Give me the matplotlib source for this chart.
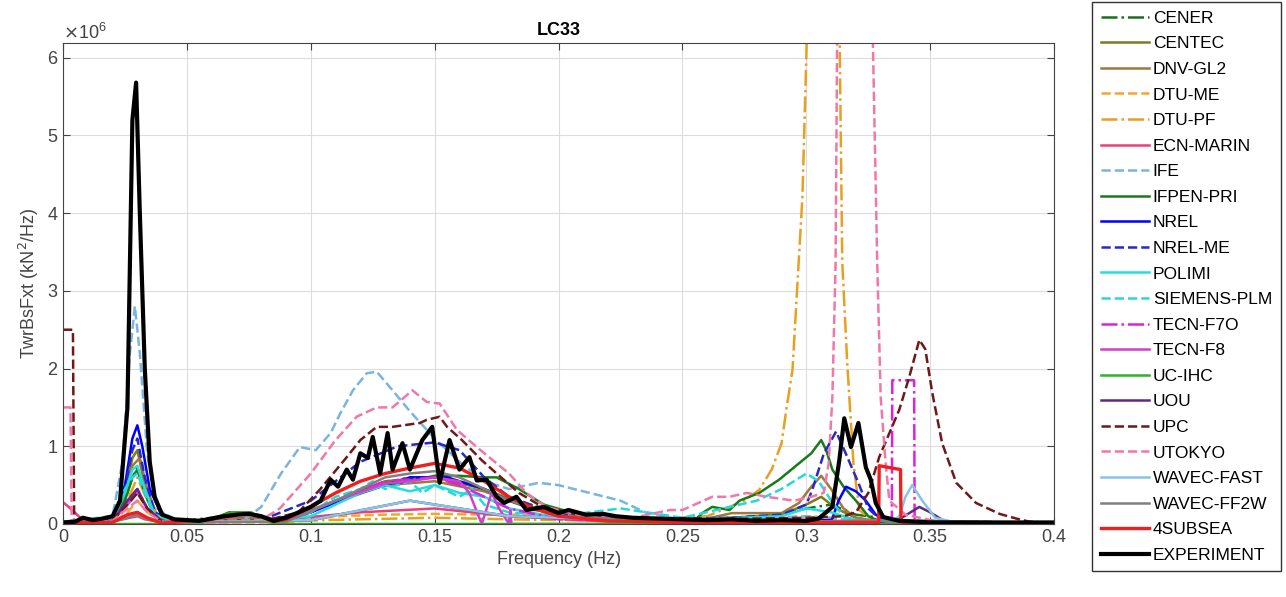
import numpy as np
import matplotlib
matplotlib.use("Agg")
import matplotlib.pyplot as plt
from matplotlib.ticker import ScalarFormatter

plt.rcParams['font.family'] = ['Liberation Sans', 'DejaVu Sans']

# values in units of 1e6 kN^2/Hz, frequencies in Hz
cener_f = [0, 0.02, 0.025, 0.028, 0.03, 0.033, 0.037, 0.045, 0.06, 0.07, 0.078, 0.085, 0.095, 0.11, 0.125, 0.14, 0.155, 0.17, 0.18, 0.2, 0.22, 0.25, 0.27, 0.29, 0.3, 0.31, 0.32, 0.34, 0.4]
cener_v = [0.02, 0.05, 0.3, 0.6, 0.72, 0.4, 0.1, 0.03, 0.08, 0.14, 0.12, 0.03, 0.08, 0.3, 0.5, 0.6, 0.6, 0.45, 0.32, 0.15, 0.08, 0.05, 0.08, 0.12, 0.2, 0.25, 0.12, 0.04, 0.01]

centec_f = [0, 0.02, 0.025, 0.028, 0.03, 0.033, 0.037, 0.045, 0.07, 0.09, 0.11, 0.13, 0.15, 0.17, 0.19, 0.22, 0.26, 0.29, 0.3, 0.306, 0.312, 0.32, 0.33, 0.4]
centec_v = [0.02, 0.05, 0.4, 0.85, 0.95, 0.5, 0.12, 0.03, 0.08, 0.06, 0.3, 0.55, 0.6, 0.45, 0.2, 0.08, 0.06, 0.12, 0.25, 0.35, 0.2, 0.08, 0.02, 0.01]

dnv_f = [0, 0.02, 0.025, 0.028, 0.031, 0.034, 0.038, 0.045, 0.07, 0.09, 0.11, 0.13, 0.15, 0.17, 0.19, 0.22, 0.26, 0.27, 0.29, 0.297, 0.302, 0.306, 0.31, 0.315, 0.32, 0.33, 0.4]
dnv_v = [0.02, 0.04, 0.35, 0.75, 0.85, 0.45, 0.1, 0.03, 0.07, 0.05, 0.28, 0.5, 0.55, 0.42, 0.18, 0.07, 0.07, 0.14, 0.14, 0.27, 0.48, 0.62, 0.45, 0.2, 0.08, 0.03, 0.01]

dtume_f = [0, 0.02, 0.026, 0.03, 0.034, 0.04, 0.06, 0.09, 0.1, 0.11, 0.13, 0.15, 0.17, 0.19, 0.2, 0.21, 0.24, 0.28, 0.3, 0.31, 0.32, 0.4]
dtume_v = [0.02, 0.03, 0.15, 0.3, 0.15, 0.03, 0.02, 0.02, 0.05, 0.1, 0.12, 0.13, 0.12, 0.12, 0.1, 0.06, 0.03, 0.05, 0.1, 0.08, 0.03, 0.01]

dtupf_f = [0, 0.02, 0.026, 0.03, 0.034, 0.04, 0.08, 0.12, 0.15, 0.18, 0.22, 0.26, 0.275, 0.281, 0.286, 0.29, 0.2919, 0.2944, 0.2984, 0.3005, 0.307, 0.3133, 0.3145, 0.3165, 0.319, 0.3214, 0.326, 0.34, 0.4]
dtupf_v = [0.02, 0.03, 0.3, 0.6, 0.3, 0.03, 0.03, 0.06, 0.08, 0.06, 0.04, 0.1, 0.3, 0.44, 0.7, 1.04, 1.47, 1.98, 4.2, 6.6, 8.0, 6.6, 3.36, 2.07, 0.78, 0.18, 0.05, 0.02, 0.01]

ecn_f = [0, 0.003, 0.008, 0.02, 0.027, 0.03, 0.033, 0.04, 0.08, 0.12, 0.15, 0.18, 0.22, 0.3, 0.33, 0.4]
ecn_v = [0.28, 0.2, 0.05, 0.03, 0.08, 0.1, 0.06, 0.02, 0.03, 0.15, 0.2, 0.1, 0.03, 0.04, 0.02, 0.01]

ife_f = [0, 0.02, 0.024, 0.027, 0.029, 0.031, 0.034, 0.038, 0.045, 0.06, 0.073, 0.08, 0.088, 0.0956, 0.102, 0.108, 0.112, 0.117, 0.1226, 0.1266, 0.1306, 0.133, 0.14, 0.15, 0.16, 0.17, 0.18, 0.192, 0.2, 0.21, 0.225, 0.235, 0.25, 0.28, 0.3, 0.32, 0.34, 0.4]
ife_v = [0.03, 0.1, 0.8, 2.2, 2.8, 2.2, 0.9, 0.2, 0.05, 0.03, 0.05, 0.22, 0.65, 0.99, 0.95, 1.17, 1.43, 1.72, 1.94, 1.96, 1.81, 1.72, 1.45, 1.1, 0.8, 0.55, 0.45, 0.53, 0.5, 0.42, 0.3, 0.15, 0.05, 0.08, 0.1, 0.05, 0.02, 0.01]

ifpen_f = [0, 0.02, 0.025, 0.028, 0.03, 0.033, 0.037, 0.045, 0.06, 0.067, 0.075, 0.082, 0.09, 0.1, 0.11, 0.12, 0.13, 0.14, 0.15, 0.16, 0.17, 0.175, 0.184, 0.194, 0.205, 0.22, 0.24, 0.255, 0.258, 0.262, 0.269, 0.273, 0.281, 0.289, 0.297, 0.302, 0.306, 0.308, 0.3105, 0.315, 0.32, 0.325, 0.33, 0.4]
ifpen_v = [0.02, 0.05, 0.3, 0.6, 0.7, 0.4, 0.1, 0.03, 0.06, 0.15, 0.15, 0.03, 0.05, 0.15, 0.3, 0.42, 0.5, 0.55, 0.62, 0.62, 0.6, 0.6, 0.45, 0.25, 0.15, 0.1, 0.06, 0.05, 0.14, 0.22, 0.18, 0.3, 0.4, 0.57, 0.78, 0.91, 1.08, 0.95, 0.7, 0.48, 0.3, 0.1, 0.03, 0.01]

nrel_f = [0, 0.02, 0.025, 0.028, 0.03, 0.032, 0.035, 0.04, 0.045, 0.08, 0.1, 0.12, 0.14, 0.155, 0.17, 0.18, 0.2, 0.25, 0.3, 0.31, 0.3105, 0.313, 0.316, 0.32, 0.324, 0.328, 0.333, 0.4]
nrel_v = [0.02, 0.06, 0.5, 1.1, 1.27, 1.0, 0.45, 0.1, 0.03, 0.04, 0.15, 0.4, 0.6, 0.6, 0.45, 0.3, 0.1, 0.04, 0.05, 0.05, 0.07, 0.3, 0.48, 0.42, 0.3, 0.12, 0.03, 0.01]

nrelme_f = [0, 0.02, 0.025, 0.028, 0.03, 0.033, 0.037, 0.045, 0.08, 0.1, 0.11, 0.12, 0.135, 0.15, 0.16, 0.17, 0.18, 0.2, 0.23, 0.27, 0.29, 0.3, 0.3024, 0.307, 0.312, 0.316, 0.321, 0.325, 0.33, 0.4]
nrelme_v = [0.02, 0.05, 0.45, 0.95, 1.1, 0.6, 0.15, 0.03, 0.05, 0.3, 0.55, 0.8, 1.0, 1.05, 0.95, 0.6, 0.35, 0.12, 0.06, 0.08, 0.12, 0.25, 0.44, 0.9, 1.19, 0.9, 0.53, 0.2, 0.05, 0.01]

polimi_f = [0, 0.02, 0.025, 0.028, 0.03, 0.033, 0.037, 0.045, 0.08, 0.1, 0.11, 0.12, 0.13, 0.14, 0.15, 0.16, 0.17, 0.18, 0.2, 0.25, 0.29, 0.3, 0.31, 0.32, 0.4]
polimi_v = [0.03, 0.05, 0.4, 0.7, 0.75, 0.45, 0.12, 0.03, 0.03, 0.1, 0.25, 0.4, 0.5, 0.42, 0.5, 0.4, 0.35, 0.2, 0.08, 0.05, 0.1, 0.2, 0.15, 0.05, 0.01]

siemens_f = [0, 0.02, 0.025, 0.028, 0.03, 0.033, 0.037, 0.045, 0.09, 0.1, 0.11, 0.12, 0.125, 0.13, 0.14, 0.145, 0.15, 0.16, 0.165, 0.17, 0.18, 0.2, 0.225, 0.25, 0.28, 0.29, 0.3, 0.305, 0.31, 0.315, 0.32, 0.4]
siemens_v = [0.03, 0.06, 0.45, 0.6, 0.65, 0.4, 0.1, 0.03, 0.03, 0.15, 0.35, 0.45, 0.55, 0.45, 0.55, 0.4, 0.5, 0.35, 0.45, 0.25, 0.15, 0.1, 0.2, 0.08, 0.3, 0.45, 0.65, 0.55, 0.3, 0.1, 0.04, 0.01]

tecnf7o_f = [0, 0.02, 0.026, 0.03, 0.034, 0.04, 0.09, 0.11, 0.13, 0.15, 0.16, 0.17, 0.18, 0.2, 0.25, 0.3, 0.3345, 0.3347, 0.3435, 0.3437, 0.4]
tecnf7o_v = [0.02, 0.04, 0.3, 0.45, 0.2, 0.03, 0.03, 0.3, 0.55, 0.6, 0.5, 0.35, 0.2, 0.06, 0.03, 0.02, 0.0, 1.85, 1.85, 0.0, 0.0]

tecnf8_f = [0, 0.02, 0.026, 0.03, 0.034, 0.04, 0.09, 0.11, 0.13, 0.14, 0.15, 0.16, 0.164, 0.169, 0.173, 0.176, 0.18, 0.1805, 0.181, 0.19, 0.25, 0.3, 0.4]
tecnf8_v = [0.02, 0.04, 0.25, 0.4, 0.2, 0.03, 0.03, 0.3, 0.52, 0.55, 0.6, 0.55, 0.4, 0.0, 0.4, 0.2, 0.0, 0.18, 0.0, 0.0, 0.0, 0.02, 0.01]

ucihc_f = [0, 0.055, 0.062, 0.068, 0.076, 0.083, 0.09, 0.4]
ucihc_v = [0.0, 0.0, 0.08, 0.15, 0.15, 0.02, 0.0, 0.0]

uou_f = [0, 0.02, 0.026, 0.03, 0.034, 0.04, 0.1, 0.14, 0.18, 0.25, 0.33, 0.338, 0.3456, 0.35, 0.355, 0.36, 0.4]
uou_v = [0.02, 0.04, 0.3, 0.45, 0.2, 0.03, 0.05, 0.3, 0.1, 0.03, 0.03, 0.07, 0.22, 0.15, 0.05, 0.02, 0.01]

upc_f = [0, 0.004, 0.0045, 0.01, 0.02, 0.026, 0.03, 0.034, 0.04, 0.08, 0.095, 0.1036, 0.1145, 0.12, 0.1266, 0.133, 0.144, 0.1468, 0.152, 0.155, 0.161, 0.169, 0.175, 0.184, 0.1935, 0.21, 0.23, 0.26, 0.3, 0.315, 0.32, 0.325, 0.3294, 0.3375, 0.3415, 0.3456, 0.348, 0.3508, 0.3548, 0.3605, 0.3685, 0.378, 0.3847, 0.39, 0.4]
upc_v = [2.5, 2.5, 0.05, 0.03, 0.05, 0.25, 0.4, 0.2, 0.03, 0.03, 0.15, 0.44, 0.86, 1.08, 1.25, 1.25, 1.3, 1.34, 1.38, 1.25, 1.08, 0.82, 0.65, 0.4, 0.22, 0.1, 0.08, 0.06, 0.08, 0.1, 0.15, 0.4, 0.86, 1.47, 1.89, 2.37, 2.25, 1.69, 1.04, 0.53, 0.27, 0.13, 0.07, 0.03, 0.01]

utokyo_f = [0, 0.003, 0.0035, 0.01, 0.02, 0.026, 0.03, 0.034, 0.04, 0.08, 0.0875, 0.1, 0.11, 0.1185, 0.1266, 0.133, 0.141, 0.1468, 0.152, 0.159, 0.167, 0.175, 0.18, 0.187, 0.195, 0.21, 0.23, 0.245, 0.25, 0.262, 0.269, 0.276, 0.284, 0.295, 0.302, 0.307, 0.309, 0.3105, 0.3118, 0.3125, 0.32, 0.3266, 0.3286, 0.33, 0.332, 0.3335, 0.34, 0.35, 0.36, 0.4]
utokyo_v = [1.5, 1.5, 0.05, 0.03, 0.04, 0.2, 0.3, 0.15, 0.03, 0.05, 0.2, 0.65, 1.08, 1.38, 1.5, 1.5, 1.72, 1.57, 1.55, 1.21, 0.99, 0.78, 0.65, 0.4, 0.22, 0.1, 0.08, 0.18, 0.18, 0.35, 0.35, 0.4, 0.35, 0.3, 0.35, 0.4, 0.78, 1.63, 3.36, 6.6, 9.0, 6.6, 3.36, 1.63, 0.78, 0.3, 0.12, 0.05, 0.03, 0.01]

wfast_f = [0, 0.02, 0.026, 0.03, 0.034, 0.04, 0.1, 0.14, 0.18, 0.25, 0.3, 0.335, 0.3375, 0.34, 0.3427, 0.3468, 0.352, 0.36, 0.4]
wfast_v = [0.02, 0.03, 0.1, 0.15, 0.08, 0.02, 0.05, 0.3, 0.1, 0.03, 0.03, 0.05, 0.1, 0.35, 0.5, 0.3, 0.08, 0.02, 0.01]

wff2w_f = [0, 0.02, 0.026, 0.03, 0.034, 0.04, 0.09, 0.11, 0.13, 0.14, 0.15, 0.16, 0.17, 0.18, 0.2, 0.25, 0.3, 0.33, 0.4]
wff2w_v = [0.02, 0.03, 0.08, 0.12, 0.06, 0.02, 0.03, 0.3, 0.6, 0.65, 0.68, 0.6, 0.45, 0.3, 0.1, 0.03, 0.03, 0.05, 0.01]

subsea_f = [0, 0.02, 0.026, 0.03, 0.034, 0.04, 0.06, 0.07, 0.078, 0.085, 0.09, 0.1, 0.11, 0.12, 0.13, 0.14, 0.15, 0.155, 0.16, 0.17, 0.18, 0.19, 0.2, 0.22, 0.25, 0.3, 0.3292, 0.3294, 0.338, 0.3382, 0.4]
subsea_v = [0.01, 0.02, 0.12, 0.15, 0.08, 0.01, 0.06, 0.12, 0.12, 0.03, 0.06, 0.22, 0.4, 0.55, 0.65, 0.72, 0.78, 0.75, 0.72, 0.55, 0.35, 0.2, 0.1, 0.04, 0.02, 0.02, 0.02, 0.75, 0.7, 0.02, 0.01]

exp_f = [0, 0.005, 0.008, 0.012, 0.016, 0.02, 0.023, 0.026, 0.028, 0.0295, 0.031, 0.033, 0.035, 0.037, 0.04, 0.045, 0.05, 0.055, 0.06, 0.065, 0.07, 0.075, 0.08, 0.085, 0.09, 0.095, 0.1, 0.104, 0.108, 0.111, 0.1145, 0.117, 0.12, 0.123, 0.125, 0.128, 0.131, 0.133, 0.137, 0.14, 0.145, 0.149, 0.152, 0.156, 0.16, 0.164, 0.167, 0.171, 0.175, 0.178, 0.183, 0.187, 0.194, 0.2, 0.204, 0.211, 0.218, 0.223, 0.23, 0.24, 0.25, 0.26, 0.27, 0.28, 0.29, 0.3, 0.305, 0.3105, 0.3133, 0.3153, 0.318, 0.321, 0.324, 0.326, 0.328, 0.331, 0.3375, 0.35, 0.4]
exp_v = [0.02, 0.03, 0.08, 0.05, 0.07, 0.1, 0.3, 1.5, 5.2, 5.68, 4.0, 2.0, 0.8, 0.35, 0.12, 0.06, 0.05, 0.04, 0.07, 0.1, 0.12, 0.13, 0.1, 0.04, 0.08, 0.15, 0.22, 0.3, 0.57, 0.48, 0.7, 0.57, 0.91, 0.85, 1.12, 0.65, 1.17, 0.7, 1.04, 0.7, 1.08, 1.25, 0.53, 1.08, 0.7, 0.86, 0.56, 0.57, 0.35, 0.27, 0.35, 0.18, 0.22, 0.14, 0.18, 0.12, 0.13, 0.1, 0.08, 0.07, 0.06, 0.05, 0.06, 0.04, 0.05, 0.04, 0.07, 0.22, 0.82, 1.36, 0.99, 1.3, 0.73, 0.57, 0.27, 0.09, 0.04, 0.02, 0.02]

labels = ["CENER", "CENTEC", "DNV-GL2", "DTU-ME", "DTU-PF", "ECN-MARIN", "IFE", "IFPEN-PRI",
          "NREL", "NREL-ME", "POLIMI", "SIEMENS-PLM", "TECN-F7O", "TECN-F8", "UC-IHC", "UOU",
          "UPC", "UTOKYO", "WAVEC-FAST", "WAVEC-FF2W", "4SUBSEA", "EXPERIMENT"]
series = [(cener_f, cener_v), (centec_f, centec_v), (dnv_f, dnv_v), (dtume_f, dtume_v),
          (dtupf_f, dtupf_v), (ecn_f, ecn_v), (ife_f, ife_v), (ifpen_f, ifpen_v),
          (nrel_f, nrel_v), (nrelme_f, nrelme_v), (polimi_f, polimi_v), (siemens_f, siemens_v),
          (tecnf7o_f, tecnf7o_v), (tecnf8_f, tecnf8_v), (ucihc_f, ucihc_v), (uou_f, uou_v),
          (upc_f, upc_v), (utokyo_f, utokyo_v), (wfast_f, wfast_v), (wff2w_f, wff2w_v),
          (subsea_f, subsea_v), (exp_f, exp_v)]
colors = ["#1e6e1e", "#7f7a1e", "#a0783c", "#f0a830", "#e8a020", "#e8407a", "#7ab4e0", "#1a7a1a",
          "#0000ff", "#2828c8", "#20e0e0", "#28d8d8", "#e020e0", "#d040d0", "#30b030", "#602880",
          "#701818", "#f078a8", "#88c4e4", "#808080", "#f01e1e", "#000000"]
styles = ["-.", "-", "-", "--", "-.", "-", "--", "-", "-", "--", "-", "--", "-.", "-", "-", "-",
          "--", "--", "-", "-", "-", "-"]

fig = plt.figure(figsize=(12.86, 5.97), dpi=100)
ax = fig.add_axes([0.049, 0.1223, 0.7707, 0.8057])

for (f, v), lab, c, ls in zip(series, labels, colors, styles):
    lw = 1.8
    if lab == "EXPERIMENT":
        lw = 3.0
    elif lab == "4SUBSEA":
        lw = 2.4
    ax.plot(f, np.array(v) * 1e6, ls, color=c, lw=lw, label=lab)

ax.set_xlim(0, 0.4)
ax.set_ylim(0, 6.19e6)
ax.set_xticks(np.arange(0, 0.41, 0.05))
ax.set_xticklabels(["0", "0.05", "0.1", "0.15", "0.2", "0.25", "0.3", "0.35", "0.4"])
ax.set_yticks(np.arange(0, 7e6, 1e6))
fmt = ScalarFormatter(useMathText=True)
fmt.set_powerlimits((6, 6))
ax.yaxis.set_major_formatter(fmt)
ax.yaxis.get_offset_text().set_fontsize(13)
ax.yaxis.get_offset_text().set_color("#444444")

ax.grid(True, color="#dcdcdc", lw=0.8)
ax.set_axisbelow(True)
ax.tick_params(direction="in", top=True, right=True, labelsize=13, colors="#444444", length=5)
for s in ax.spines.values():
    s.set_color("#444444")

ax.set_title("LC33", fontsize=13, fontweight="bold", pad=6)
ax.set_xlabel("Frequency (Hz)", fontsize=13, color="#444444")
ax.set_ylabel("TwrBsFxt (kN$^2$/Hz)", fontsize=13, color="#444444")

leg = ax.legend(loc="upper left", bbox_to_anchor=(1092 / 1286, 1 - 2 / 597),
                bbox_transform=fig.transFigure, borderaxespad=0, fontsize=12.5,
                labelspacing=0.6, handlelength=2.8, handletextpad=0.2, borderpad=0.5,
                fancybox=False, framealpha=1, edgecolor="#333333")
leg.get_frame().set_linewidth(1.0)

fig.savefig("out.png", dpi=100)
